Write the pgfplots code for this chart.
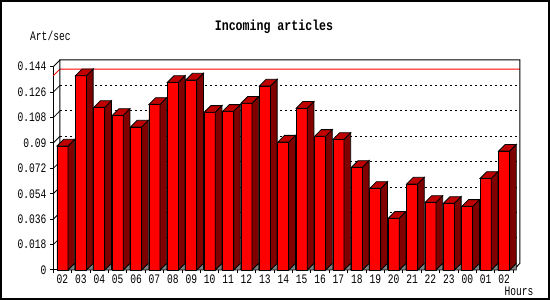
\documentclass[border=0pt]{standalone}
\usepackage{pgfplots}
\pgfplotsset{compat=1.18}
\usepackage{pgfplotstable}
\usepackage{fontspec}
\newfontfamily\monofont[FakeStretch=0.74]{Liberation Mono}
\newfontfamily\titlefont[FakeStretch=0.8]{Liberation Mono}
\definecolor{barfront}{RGB}{255,0,0}
\definecolor{bartop}{RGB}{192,0,0}
\definecolor{barside}{RGB}{128,0,0}
\definecolor{floorgray}{RGB}{128,128,128}
\pgfplotstableread{
idx v
0 0.0878
1 0.1376
2 0.1152
3 0.1095
4 0.1013
5 0.1173
6 0.1329
7 0.1346
8 0.1117
9 0.1124
10 0.1181
11 0.1303
12 0.0906
13 0.1146
14 0.0947
15 0.0925
16 0.0727
17 0.0578
18 0.0366
19 0.0609
20 0.0479
21 0.0472
22 0.0451
23 0.0649
24 0.0842
}\datatable
\def\dx{0.364}
\def\dy{0.00475}
\def\hw{0.3}
\begin{document}
\begin{tikzpicture}
\useasboundingbox (0pt,0pt) rectangle (550pt,300pt);
\draw[line width=2pt] (1pt,1pt) rectangle (549pt,299pt);
\node[anchor=base, inner sep=0pt, font=\titlefont\bfseries\fontsize{14.5}{16}\selectfont] at (274pt,269pt) {Incoming articles};
\node[anchor=base west, inner sep=0pt, font=\monofont\fontsize{13}{14}\selectfont] at (30pt,259.3pt) {Art/sec};
\node[anchor=base west, inner sep=0pt, font=\monofont\fontsize{13}{14}\selectfont] at (504.3pt,4.3pt) {Hours};
\begin{axis}[
  at={(53.3pt,30pt)}, anchor=south west,
  scale only axis, width=460pt, height=203.3pt,
  xmin=-0.5, xmax=24.5, ymin=0, ymax=0.144,
  clip=false,
  axis x line*=bottom, axis y line*=left,
  axis line style={line width=1pt, -},
  xtick={0,...,24},
  xticklabels={02,03,04,05,06,07,08,09,10,11,12,13,14,15,16,17,18,19,20,21,22,23,00,01,02},
  minor xtick={-0.5,0.5,...,24.5},
  ytick={0,0.018,0.036,0.054,0.072,0.09,0.108,0.126,0.144},
  yticklabels={0,0.018,0.036,0.054,0.072,0.09,0.108,0.126,0.144},
  tick align=outside,
  major tick length=3.3pt,
  minor tick length=3.5pt,
  major x tick style={draw=none},
  minor x tick style={black, line width=1pt},
  y tick style={black, line width=1pt},
  ticklabel style={font=\monofont\fontsize{13}{14}\selectfont},
  xticklabel style={anchor=base, yshift=-10pt},
]
% back wall grid
\pgfplotsinvokeforeach{0.018,0.036,0.054,0.072,0.09,0.108,0.126}{
  \draw[black, line width=1pt, dash pattern=on 2pt off 3pt] (-0.5+\dx,#1+\dy) -- (24.5+\dx,#1+\dy);
  \draw[black, line width=0.8pt] (-0.5,#1) -- (-0.5+\dx,#1+\dy);
}
% max line
\draw[red, line width=1pt] (-0.5,0.1376) -- (-0.5+\dx,0.1376+\dy) -- (24.5+\dx,0.1376+\dy);
% back frame
\draw[black, line width=1pt] (24.5,0) -- (24.5+\dx,\dy) -- (24.5+\dx,0.144+\dy) -- (-0.5+\dx,0.144+\dy) -- (-0.5+\dx,\dy);
\draw[black, line width=1pt] (-0.5,0.144) -- (-0.5+\dx,0.144+\dy);
% front faces
\addplot[ybar, bar width=0.6, bar shift=0, fill=barfront, draw=black, line width=0.8pt] table[x=idx, y=v]{\datatable};
% side, top and floor faces
\pgfplotsinvokeforeach{0,...,24}{
  \pgfplotstablegetelem{#1}{v}\of\datatable
  \pgfmathsetmacro\xl{#1-\hw}
  \pgfmathsetmacro\xr{#1+\hw}
  \pgfmathsetmacro\xrr{#1+\hw+\dx}
  \pgfmathsetmacro\xll{#1-\hw+\dx}
  \pgfmathsetmacro\vv{\pgfplotsretval+\dy}
  \edef\temp{%
    \noexpand\addplot[fill=floorgray, draw=black, line width=0.6pt] coordinates {(\xr,0) (\xrr,\dy) (\xrr,0)} -- cycle;
    \noexpand\addplot[fill=barside, draw=black, line width=0.8pt] coordinates {(\xr,0) (\xrr,\dy) (\xrr,\vv) (\xr,\pgfplotsretval)} -- cycle;
    \noexpand\addplot[fill=bartop, draw=black, line width=0.8pt] coordinates {(\xl,\pgfplotsretval) (\xr,\pgfplotsretval) (\xrr,\vv) (\xll,\vv)} -- cycle;
  }%
  \temp
}
\end{axis}
\end{tikzpicture}
\end{document}
